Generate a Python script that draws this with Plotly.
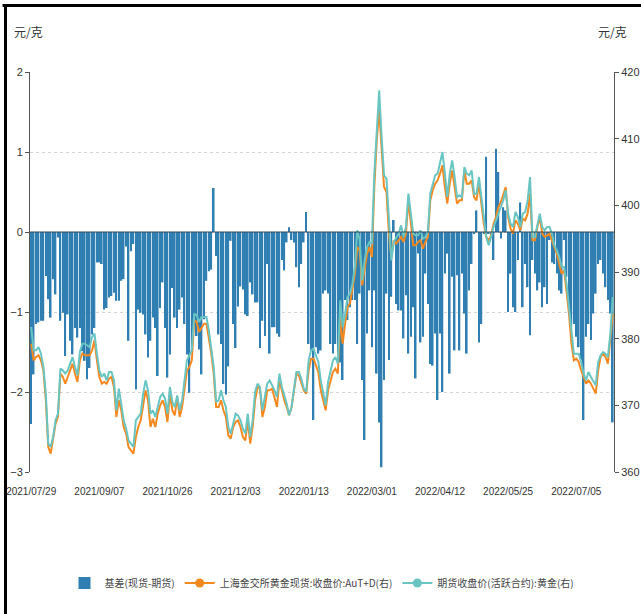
import pandas as pd
import plotly.graph_objects as go

# ---------------- data ----------------
start_date = "2021-07-29"
cn_holidays = [
    "2021-09-20", "2021-09-21", "2021-10-01", "2021-10-04", "2021-10-05", "2021-10-06", "2021-10-07",
    "2022-01-03", "2022-01-31", "2022-02-01", "2022-02-02", "2022-02-03", "2022-02-04",
    "2022-04-04", "2022-04-05", "2022-05-02", "2022-05-03", "2022-05-04", "2022-06-03",
]
tick_labels = ["2021/07/29", "2021/09/07", "2021/10/26", "2021/12/03", "2022/01/13",
               "2022/03/01", "2022/04/12", "2022/05/25", "2022/07/05"]

basis = [
    -2.40, -1.78, -1.15, -1.13, -1.11, -1.11, -0.55, -0.84, -1.07, -0.59,
    -0.78, -0.07, -1.11, -1.01, -1.55, -1.03, -1.36, -1.53, -1.20, -1.32,
    -1.20, -1.49, -1.61, -1.84, -1.70, -1.28, -1.20, -0.38, -0.38, -0.40,
    -0.97, -0.95, -0.82, -0.80, -0.76, -0.86, -0.86, -0.61, -0.59, -0.18,
    -1.36, -0.24, -0.15, -1.97, -0.97, -1.01, -1.03, -1.28, -1.57, -1.36,
    -1.07, -1.20, -1.80, -0.95, -0.63, -1.20, -1.82, -1.53, -0.70, -1.07,
    -1.20, -0.97, -0.82, -1.15, -1.53, -2.01, -1.47, -1.07, -1.30, -1.47,
    -1.78, -1.09, -0.61, -0.49, -0.47, 0.55, -0.30, -1.28, -1.40, -1.90,
    -2.03, -1.68, -0.11, -1.15, -1.45, -0.93, -0.68, -0.72, -1.03, -1.05,
    -0.63, -0.78, -0.88, -0.88, -1.45, -1.11, -1.30, -0.40, -1.52, -1.19,
    -1.19, -1.27, -1.31, -0.35, -0.48, -0.13, 0.06, -0.10, -0.13, -0.44,
    -0.69, -0.40, -0.13, 0.25, -1.40, -1.48, -2.35, -1.44, -1.52, -1.48,
    -0.77, -0.73, -0.77, -1.40, -1.52, -1.40, -1.52, -1.63, -1.85, -0.85,
    -1.10, -0.94, -0.85, -0.85, -1.40, -0.77, -1.85, -2.60, -1.27, -0.73,
    -1.44, -0.73, -1.77, -2.38, -2.94, -1.85, -0.77, -1.60, -0.81, 0.15,
    -0.90, -0.98, -0.98, -1.33, -0.79, -1.52, -1.31, -0.94, -1.83, -0.27,
    -1.38, -1.31, -0.52, -0.90, -1.65, -1.67, -1.27, -2.10, -1.27, -2.00,
    -0.52, -0.27, -1.77, -0.56, -1.48, -0.54, -1.48, -0.52, -1.02, -1.52,
    -0.73, -0.40, -0.02, 0.27, -1.38, -1.15, -0.02, 0.94, -0.02, -0.04,
    -0.35, 1.04, 0.75, -0.08, 0.31, 0.27, -1.00, -0.52, -0.94, -1.00,
    -0.35, 0.37, -0.94, -0.40, -0.69, -1.29, -0.35, -0.52, -0.73, -0.63,
    -0.94, -0.69, -0.90, -0.10, -0.38, -0.40, -0.52, -0.73, -0.77, -0.10,
    -0.56, -1.02, -1.19, -1.15, -1.31, -1.44, -1.60, -2.35, -1.31, -1.15,
    -1.35, -1.02, -0.77, -0.40, -0.35, -0.52, -0.69, -0.85, -1.02, -2.38,
]

spot_aut_d = [
    379.25, 376.75, 377.25, 377.5, 376.75, 375.25, 370.75, 363.75, 362.75, 364.75,
    367.25, 368.25, 374.75, 374.25, 373.25, 374.25, 375.25, 376.25, 374.75, 373.5,
    376.75, 377.75, 377.5, 377.5, 377.5, 378.25, 379.75, 376.75, 374.25, 373.25,
    373.5, 373.25, 374.0, 374.25, 372.75, 368.25, 370.75, 369.25, 366.75, 365.75,
    363.75, 363.25, 362.75, 365.25, 366.75, 367.75, 370.25, 372.25, 370.75, 366.75,
    368.0, 366.75, 368.75, 370.0, 370.75, 369.75, 367.5, 371.75, 369.25, 368.5,
    371.25, 368.25, 369.75, 372.75, 375.25, 375.75, 376.75, 382.75, 382.5, 381.0,
    381.75, 382.25, 382.25, 380.25, 377.75, 374.75, 369.75, 369.75, 370.75, 369.25,
    368.25, 365.5, 365.0, 366.75, 367.5, 367.75, 366.75, 365.25, 364.75, 367.75,
    364.25, 366.75, 370.75, 372.75, 372.5, 368.25, 369.75, 372.25, 372.25, 372.5,
    371.25, 369.75, 373.75, 372.25, 370.75, 369.75, 368.5, 369.75, 372.25, 374.75,
    374.5, 373.5, 372.25, 371.75, 375.25, 377.0, 377.0, 376.0, 375.0, 372.25,
    370.75, 369.25, 372.25, 373.75, 375.0, 375.5, 374.75, 383.25, 379.25, 382.25,
    384.75, 385.25, 387.25, 389.75, 393.75, 393.25, 388.0, 390.25, 392.75, 393.75,
    392.25, 402.75, 409.75, 414.25, 409.25, 402.75, 402.0, 395.75, 392.25, 394.75,
    394.25, 394.75, 395.25, 394.5, 395.75, 400.75, 397.75, 394.0, 394.0, 394.5,
    394.75, 393.5, 394.5, 395.25, 400.75, 402.25, 403.25, 403.75, 404.75, 406.0,
    402.75, 400.25, 403.25, 405.25, 402.75, 400.25, 400.75, 400.75, 405.25, 403.25,
    403.25, 403.75, 401.25, 400.75, 403.25, 399.75, 397.25, 395.25, 394.75, 395.5,
    397.25, 398.25, 399.75, 400.5, 401.75, 402.75, 398.25, 396.5, 395.75, 397.75,
    397.25, 396.25, 398.0, 397.75, 398.75, 401.75, 394.75, 394.75, 396.75, 398.25,
    395.75, 395.25, 395.5, 395.75, 394.75, 393.75, 392.75, 391.25, 389.75, 390.25,
    387.25, 383.75, 379.25, 376.75, 377.0, 376.5, 375.25, 374.25, 373.25, 373.75,
    373.25, 372.5, 371.75, 375.25, 377.25, 377.75, 377.25, 376.25, 380.25, 383.75,
]

futures_main = [
    381.75, 378.25, 378.25, 378.75, 377.75, 375.75, 371.75, 364.25, 363.75, 365.25,
    367.75, 368.75, 375.5, 375.25, 374.75, 375.25, 376.25, 377.25, 375.75, 374.5,
    378.0, 379.25, 379.25, 379.0, 378.75, 380.25, 380.75, 377.75, 375.25, 374.25,
    374.75, 373.75, 375.0, 375.0, 373.75, 369.25, 372.5, 370.25, 367.75, 366.5,
    364.75, 364.25, 363.75, 367.75, 368.25, 368.75, 371.75, 373.75, 372.25, 368.75,
    369.25, 368.25, 369.75, 371.25, 371.75, 371.0, 368.75, 372.75, 370.5, 369.75,
    371.5, 369.25, 370.75, 373.75, 376.75, 377.5, 378.25, 383.75, 383.5, 382.5,
    383.25, 383.25, 383.25, 381.25, 378.75, 375.75, 370.5, 370.75, 372.25, 370.75,
    369.75, 366.75, 365.75, 367.5, 368.75, 368.5, 367.75, 366.5, 365.75, 368.75,
    365.25, 367.75, 372.0, 373.25, 372.75, 369.25, 371.25, 373.25, 373.75, 373.0,
    372.25, 371.25, 374.75, 372.75, 371.5, 370.25, 368.5, 369.75, 372.5, 375.0,
    375.0, 374.0, 372.5, 372.0, 376.75, 378.25, 378.5, 377.5, 376.5, 373.75,
    371.75, 370.0, 373.5, 375.25, 376.75, 377.25, 376.25, 385.75, 381.75, 383.75,
    386.25, 386.75, 388.25, 390.75, 396.25, 394.75, 388.75, 391.75, 393.75, 394.5,
    394.25, 404.75, 411.75, 417.25, 410.25, 404.5, 404.0, 396.75, 391.75, 394.5,
    395.25, 395.75, 397.0, 395.25, 396.75, 401.75, 398.75, 395.75, 395.5, 395.5,
    396.25, 395.0, 395.25, 396.0, 401.75, 403.25, 404.5, 404.75, 406.25, 408.0,
    404.75, 401.25, 404.75, 406.75, 404.25, 401.25, 401.5, 401.25, 405.75, 404.75,
    404.5, 405.25, 401.75, 401.75, 404.25, 400.75, 398.25, 395.25, 394.0, 395.25,
    396.75, 397.75, 398.75, 399.75, 400.75, 402.25, 398.75, 397.25, 396.75, 399.0,
    398.25, 396.75, 398.75, 399.0, 400.75, 404.25, 395.25, 395.25, 397.25, 398.75,
    396.75, 396.25, 396.75, 396.75, 395.75, 394.0, 393.25, 392.25, 390.75, 390.75,
    388.25, 384.75, 380.25, 377.75, 377.75, 377.75, 376.5, 374.75, 373.75, 375.0,
    374.25, 373.5, 373.0, 376.5, 377.5, 378.0, 377.75, 377.25, 380.75, 386.25,
]

names = ["基差(现货-期货)", "上海金交所黄金现货:收盘价:AuT+D(右)", "期货收盘价(活跃合约):黄金(右)"]
unit_label = "元/克"

# ---------------- figure ----------------
n = len(basis)
dates = pd.bdate_range(start=start_date, periods=n, freq="C",
                       holidays=cn_holidays).strftime("%Y/%m/%d").tolist()

BAR = "#2f7fb2"
ORANGE = "#f5891f"
TEAL = "#68c5c2"
AXIS = "#555555"
TXT = "#333333"
NUM_FONT = "Liberation Sans, Arial, sans-serif"
CJK_FONT = "Noto Sans CJK SC, sans-serif"

fig = go.Figure()
fig.add_trace(go.Bar(x=dates, y=basis, name=names[0], marker=dict(color=BAR, line=dict(width=0)),
                     yaxis="y", showlegend=True))
fig.add_trace(go.Scatter(x=dates, y=spot_aut_d, mode="lines", line=dict(color=ORANGE, width=2),
                         yaxis="y2", showlegend=False, name=names[1]))
fig.add_trace(go.Scatter(x=dates, y=futures_main, mode="lines", line=dict(color=TEAL, width=2),
                         yaxis="y2", showlegend=False, name=names[2]))
# legend entries (line + circle marker)
fig.add_trace(go.Scatter(x=[dates[0]], y=[None], mode="lines+markers", name=names[1],
                         line=dict(color=ORANGE, width=2), marker=dict(color=ORANGE, size=9), yaxis="y2"))
fig.add_trace(go.Scatter(x=[dates[0]], y=[None], mode="lines+markers", name=names[2],
                         line=dict(color=TEAL, width=2), marker=dict(color=TEAL, size=9), yaxis="y2"))

fig.update_layout(
    width=641, height=614,
    margin=dict(l=30, r=27, t=72, b=142, autoexpand=False),
    paper_bgcolor="white", plot_bgcolor="white",
    barmode="overlay", bargap=0.33,
    showlegend=True,
    legend=dict(orientation="h", x=0.5, xanchor="center", y=-0.2775, yanchor="middle",
                font=dict(family=CJK_FONT, size=10, color="#444444"),
                itemwidth=30, traceorder="normal"),
    xaxis=dict(type="category", range=[-0.5, n - 0.5], tickmode="array", automargin=False,
               tickvals=tick_labels, ticktext=tick_labels, showgrid=False, showline=False,
               zeroline=False, ticks="outside", ticklen=10, tickcolor="rgba(0,0,0,0)", tickangle=0,
               tickfont=dict(family=NUM_FONT, size=10, color=TXT)),
    yaxis=dict(range=[-3, 2], tick0=0, dtick=1, showgrid=True, gridcolor="#d4d4d4", automargin=False,
               griddash="3px,3px", zeroline=False, showline=True, linecolor=AXIS, linewidth=1,
               ticks="outside", ticklen=4, tickcolor=AXIS,
               tickfont=dict(family=NUM_FONT, size=11, color=TXT)),
    yaxis2=dict(range=[360, 420], dtick=10, overlaying="y", side="right", showgrid=False,
                automargin=False, zeroline=False, showline=True, linecolor=AXIS, linewidth=1,
                ticks="outside", ticklen=4, tickcolor=AXIS,
                tickfont=dict(family=NUM_FONT, size=11, color=TXT)),
    annotations=[
        dict(text=unit_label, xref="paper", yref="paper", x=-0.003, y=1.1, showarrow=False,
             xanchor="center", yanchor="middle", font=dict(family=CJK_FONT, size=12, color=TXT)),
        dict(text=unit_label, xref="paper", yref="paper", x=0.998, y=1.1, showarrow=False,
             xanchor="center", yanchor="middle", font=dict(family=CJK_FONT, size=12, color=TXT)),
    ],
    shapes=[
        dict(type="line", xref="paper", yref="y", x0=0, x1=1, y0=0, y1=0,
             line=dict(color="#3a4a58", width=1), layer="above"),
        dict(type="line", xref="paper", yref="paper", x0=-0.047, x1=1.05, y0=1.16625, y1=1.16625,
             line=dict(color="black", width=3)),
        dict(type="line", xref="paper", yref="paper", x0=-0.04195, x1=-0.04195, y0=1.17, y1=-0.36,
             line=dict(color="black", width=3)),
    ],
)

fig.write_html("out.html", post_script="document.body.style.margin='0px';",
               config={"displayModeBar": False})
